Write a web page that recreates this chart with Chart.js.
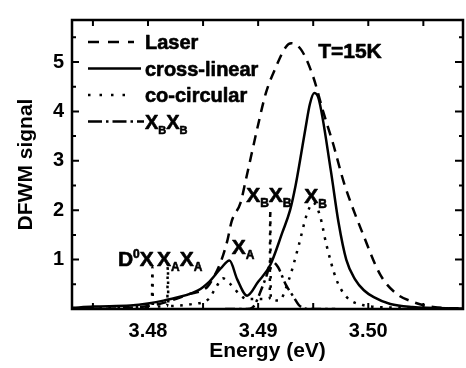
<!DOCTYPE html>
<html>
<head>
<meta charset="utf-8">
<script src="https://cdn.jsdelivr.net/npm/chart.js@4.4.0/dist/chart.umd.min.js"></script>
<style>
  html, body { margin: 0; padding: 0; background: #fff; }
  #wrap { width: 466px; height: 368px; }
</style>
</head>
<body>
<div id="wrap"><canvas id="chart"></canvas></div>
<script>
// energies (eV) and DFWM signal
const laserE = [3.4731, 3.478, 3.481, 3.4836, 3.4854, 3.4859, 3.4866, 3.4872, 3.4876, 3.4884, 3.4889, 3.4900, 3.4907, 3.4916, 3.4925, 3.4930, 3.4939, 3.4950, 3.4959, 3.4968, 3.4978, 3.4996, 3.5011, 3.5025, 3.5041, 3.5059, 3.5086];
const laserY = [0.0, 0.02, 0.1, 0.29, 0.45, 0.62, 0.95, 1.38, 1.78, 2.15, 2.63, 3.73, 4.37, 4.89, 5.3, 5.38, 5.25, 4.7, 4.0, 3.35, 2.55, 1.47, 0.69, 0.32, 0.14, 0.04, 0.01];

const crossE = [3.4731, 3.475, 3.4784, 3.4800, 3.4814, 3.4845, 3.4856, 3.4866, 3.4874, 3.4881, 3.4890, 3.4900, 3.4911, 3.4922, 3.4929, 3.4934, 3.4938, 3.4943, 3.4947, 3.4951, 3.4955, 3.4966, 3.4973, 3.4980, 3.4988, 3.4996, 3.5005, 3.5020, 3.5040, 3.5086];
const crossY = [0.02, 0.05, 0.07, 0.11, 0.17, 0.37, 0.56, 0.82, 0.98, 0.6, 0.27, 0.55, 0.89, 1.55, 2.0, 2.5, 3.0, 3.66, 4.15, 4.37, 4.25, 2.8, 1.75, 1.0, 0.6, 0.38, 0.24, 0.1, 0.04, 0.01];

const coE = [3.4731, 3.4760, 3.4790, 3.48035, 3.4804, 3.48045, 3.48175, 3.4818, 3.48185, 3.4840, 3.4855, 3.4862, 3.4868, 3.4875, 3.4883, 3.4890, 3.4905, 3.49105, 3.4911, 3.49115, 3.4919, 3.4928, 3.4937, 3.4944, 3.4950, 3.4956, 3.4962, 3.4971, 3.4980, 3.4995, 3.5020, 3.5086];
const coY = [0.02, 0.03, 0.04, 0.05, 0.85, 0.05, 0.06, 0.95, 0.06, 0.10, 0.2, 0.45, 0.62, 0.5, 0.3, 0.2, 0.2, 0.22, 2.0, 0.22, 0.17, 0.6, 1.3, 1.9, 2.15, 1.9, 1.3, 0.6, 0.25, 0.08, 0.03, 0.01];

const xbxbE = [3.4870, 3.4890, 3.4895, 3.4903, 3.4908, 3.4912, 3.4918, 3.4925, 3.4932, 3.4937, 3.4945, 3.4970];
const xbxbY = [0.0, 0.0, 0.03, 0.4, 0.7, 0.97, 0.85, 0.5, 0.25, 0.08, 0.0, 0.0];

const xTicks = [3.48, 3.49, 3.50];
const yTicks = [1, 2, 3, 4, 5];

const FONT = '"Liberation Sans", Arial, sans-serif';

function pts(xs, ys) { return xs.map((x, i) => ({ x: x, y: ys[i] })); }

// text labels placed in data coordinates: [kind, text] with kind n / sub / sup
const notes = [
  { at: [3.47727, 0.87], parts: [['n', 'D'], ['sup', '0'], ['n', 'X']] },
  { at: [3.48082, 0.87], parts: [['n', 'X'], ['sub', 'A'], ['n', 'X'], ['sub', 'A']] },
  { at: [3.48761, 1.11], parts: [['n', 'X'], ['sub', 'A']] },
  { at: [3.48891, 2.17], parts: [['n', 'X'], ['sub', 'B'], ['n', 'X'], ['sub', 'B']] },
  { at: [3.49418, 2.15], parts: [['n', 'X'], ['sub', 'B']] },
  { at: [3.49545, 5.08], parts: [['n', 'T=15K']] }
];

const legendRows = [
  { dash: [11, 9], len: 46, parts: [['n', 'Laser']] },
  { dash: [], len: 53, parts: [['n', 'cross-linear']] },
  { dash: [2.5, 9], len: 46, parts: [['n', 'co-circular']] },
  { dash: [14, 4, 2.5, 4], len: 56, parts: [['n', 'X'], ['sub', 'B'], ['n', 'X'], ['sub', 'B']] }
];

function drawParts(ctx, x, y, parts, size) {
  ctx.textBaseline = 'alphabetic';
  ctx.textAlign = 'left';
  ctx.lineWidth = 0.6;
  ctx.lineJoin = 'round';
  parts.forEach(([kind, txt]) => {
    let ty = y;
    if (kind === 'n') {
      ctx.font = 'bold ' + size + 'px ' + FONT;
    } else {
      ctx.font = 'bold ' + Math.round(size * 0.55) + 'px ' + FONT;
      ty = kind === 'sub' ? y + 5 : y - 8;
    }
    ctx.fillText(txt, x, ty);
    ctx.strokeText(txt, x, ty);
    x += ctx.measureText(txt).width;
  });
}

const framePlugin = {
  id: 'frame',
  afterDraw(chart) {
    const { ctx, chartArea: a, scales: { x, y } } = chart;
    ctx.save();
    ctx.strokeStyle = '#000';
    ctx.fillStyle = '#000';
    ctx.lineWidth = 2.5;
    ctx.setLineDash([]);
    ctx.strokeRect(a.left, a.top, a.right - a.left, a.bottom - a.top);

    // inward ticks
    ctx.lineWidth = 2;
    ctx.beginPath();
    for (let v = 0.5; v < y.max; v += 0.5) {
      const py = y.getPixelForValue(v);
      const major = Math.abs(v - Math.round(v)) < 1e-6;
      ctx.moveTo(a.left, py); ctx.lineTo(a.left + (major ? 7 : 4), py);
      ctx.moveTo(a.right, py); ctx.lineTo(a.right - (major ? 8 : 4), py);
    }
    for (let v = 3.475; v < x.max; v += 0.005) {
      const px = x.getPixelForValue(v);
      ctx.moveTo(px, a.top); ctx.lineTo(px, a.top + 6);
      ctx.moveTo(px, a.bottom); ctx.lineTo(px, a.bottom - 6);
    }
    ctx.stroke();

    // notes
    notes.forEach(n => {
      drawParts(ctx, x.getPixelForValue(n.at[0]), y.getPixelForValue(n.at[1]), n.parts, 21);
    });

    // legend
    legendRows.forEach((r, i) => {
      const ly = a.top + 22 + i * 26.5;
      ctx.lineWidth = 2.6;
      ctx.lineCap = 'butt';
      ctx.setLineDash(r.dash);
      ctx.beginPath();
      ctx.moveTo(a.left + 16, ly);
      ctx.lineTo(a.left + 16 + r.len, ly);
      ctx.stroke();
      ctx.setLineDash([]);
      drawParts(ctx, a.left + 73, ly + 7, r.parts, 20);
    });
    ctx.restore();
  }
};

const line = (data, dash) => ({
  data: data,
  borderColor: '#000',
  borderWidth: 2.5,
  borderDash: dash,
  borderCapStyle: 'butt',
  pointRadius: 0,
  fill: false,
  cubicInterpolationMode: 'monotone'
});

new Chart(document.getElementById('chart'), {
  type: 'line',
  data: {
    datasets: [
      line(pts(laserE, laserY), [10, 7]),
      line(pts(crossE, crossY), []),
      line(pts(coE, coY), [2.6, 6.5]),
      line(pts(xbxbE, xbxbY), [10, 4, 2.6, 4])
    ]
  },
  options: {
    responsive: true,
    maintainAspectRatio: false,
    animation: false,
    layout: { padding: { top: 7, right: 3, left: 0, bottom: 0 } },
    plugins: { legend: { display: false }, tooltip: { enabled: false } },
    scales: {
      x: {
        type: 'linear',
        min: 3.4731,
        max: 3.5086,
        border: { display: false },
        grid: { display: false, drawTicks: false },
        afterBuildTicks: s => { s.ticks = xTicks.map(v => ({ value: v })); },
        afterFit: s => { s.height = 59; },
        ticks: {
          color: '#000',
          padding: 10,
          maxRotation: 0,
          font: { family: FONT, size: 20, weight: 'bold' },
          callback: v => v.toFixed(2)
        },
        title: {
          display: true,
          text: 'Energy (eV)',
          color: '#000',
          font: { family: FONT, size: 21, weight: 'bold' },
          padding: { top: 0, bottom: 4 }
        }
      },
      y: {
        min: 0,
        max: 5.85,
        border: { display: false },
        grid: { display: false, drawTicks: false },
        afterBuildTicks: s => { s.ticks = yTicks.map(v => ({ value: v })); },
        afterFit: s => { s.width = 72; },
        ticks: {
          color: '#000',
          padding: 8,
          font: { family: FONT, size: 20, weight: 'bold' }
        },
        title: {
          display: true,
          text: 'DFWM signal',
          color: '#000',
          font: { family: FONT, size: 21, weight: 'bold' },
          padding: { top: 14, bottom: 0 }
        }
      }
    }
  },
  plugins: [framePlugin]
});
</script>
</body>
</html>
